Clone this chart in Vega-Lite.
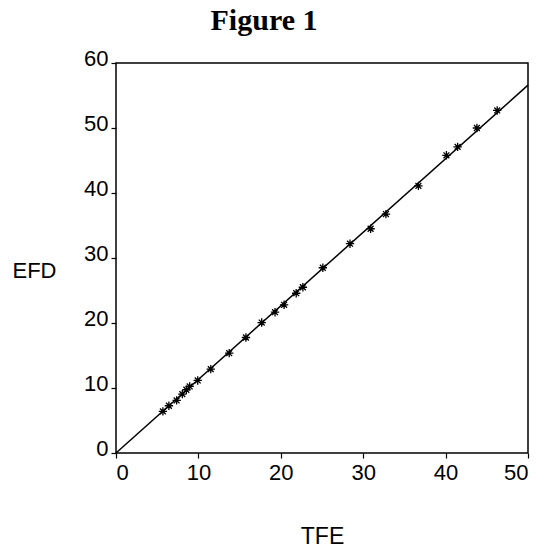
{
  "$schema": "https://vega.github.io/schema/vega-lite/v6.json",
  "autosize": "none",
  "width": 412,
  "height": 390,
  "padding": {"left": 116, "top": 63, "right": 21, "bottom": 100},
  "background": "white",
  "title": {
    "text": "Figure 1",
    "font": "Liberation Serif",
    "fontSize": 30,
    "fontWeight": "bold",
    "color": "black",
    "anchor": "middle",
    "dx": -58,
    "offset": 11
  },
  "config": {
    "view": {"stroke": "black", "strokeWidth": 1.5},
    "axis": {
      "grid": false,
      "domain": false,
      "tickColor": "black",
      "tickSize": 5,
      "tickWidth": 1.2,
      "labelColor": "black",
      "labelFont": "Liberation Sans",
      "labelFontSize": 22,
      "titleColor": "black",
      "titleFont": "Liberation Sans",
      "titleFontWeight": "normal"
    }
  },
  "datasets": {
    "pts": [
      {"TFE": 5.69, "EFD": 6.4},
      {"TFE": 6.42, "EFD": 7.27},
      {"TFE": 7.36, "EFD": 8.09},
      {"TFE": 8.05, "EFD": 9.06},
      {"TFE": 8.54, "EFD": 9.73},
      {"TFE": 8.94, "EFD": 10.24},
      {"TFE": 9.92, "EFD": 11.16},
      {"TFE": 11.5, "EFD": 12.9},
      {"TFE": 13.74, "EFD": 15.36},
      {"TFE": 15.77, "EFD": 17.77},
      {"TFE": 17.68, "EFD": 20.07},
      {"TFE": 19.3, "EFD": 21.66},
      {"TFE": 20.4, "EFD": 22.8},
      {"TFE": 21.87, "EFD": 24.58},
      {"TFE": 22.68, "EFD": 25.5},
      {"TFE": 25.1, "EFD": 28.5},
      {"TFE": 28.4, "EFD": 32.2},
      {"TFE": 30.9, "EFD": 34.5},
      {"TFE": 32.76, "EFD": 36.76},
      {"TFE": 36.7, "EFD": 41.1},
      {"TFE": 40.1, "EFD": 45.8},
      {"TFE": 41.46, "EFD": 47.1},
      {"TFE": 43.8, "EFD": 50.0},
      {"TFE": 46.26, "EFD": 52.7}
    ],
    "fit": [
      {"x1": 0, "y1": 0, "x2": 50, "y2": 56.6}
    ]
  },
  "layer": [
    {
      "data": {"name": "fit"},
      "mark": {"type": "rule", "color": "black", "strokeWidth": 1.5},
      "encoding": {
        "x": {"field": "x1", "type": "quantitative"},
        "y": {"field": "y1", "type": "quantitative"},
        "x2": {"field": "x2"},
        "y2": {"field": "y2"}
      }
    },
    {
      "data": {"name": "pts"},
      "mark": {
        "type": "point",
        "shape": "M-1,0L1,0M0,-1L0,1M-0.7,-0.7L0.7,0.7M-0.7,0.7L0.7,-0.7",
        "filled": false,
        "stroke": "black",
        "strokeWidth": 1.3,
        "size": 70,
        "opacity": 1
      },
      "encoding": {
        "x": {
          "field": "TFE",
          "type": "quantitative",
          "scale": {"domain": [0, 50], "nice": false, "zero": false},
          "axis": {
            "values": [0, 10, 20, 30, 40, 50],
            "labelPadding": 4,
            "title": "TFE",
            "titleFontSize": 23,
            "titleAngle": 0,
            "titleX": 206,
            "titleY": 90,
            "titleAlign": "center",
            "titleBaseline": "alphabetic"
          }
        },
        "y": {
          "field": "EFD",
          "type": "quantitative",
          "scale": {"domain": [0, 60], "nice": false, "zero": false},
          "axis": {
            "values": [0, 10, 20, 30, 40, 50, 60],
            "labelPadding": 3,
            "labelBaseline": "alphabetic",
            "labelOffset": 2,
            "title": "EFD",
            "titleFontSize": 22,
            "titleAngle": 0,
            "titleX": -82,
            "titleY": 214,
            "titleAlign": "center",
            "titleBaseline": "alphabetic"
          }
        }
      }
    }
  ]
}
